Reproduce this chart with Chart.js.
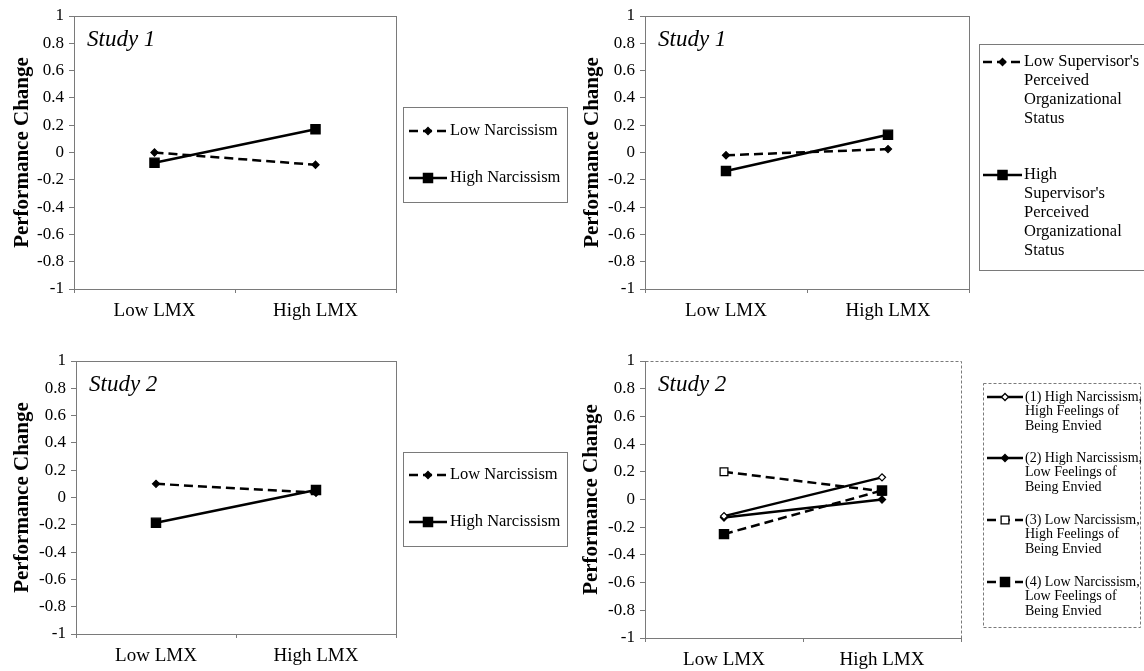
<!DOCTYPE html>
<html>
<head>
<meta charset="utf-8">
<script src="https://cdn.jsdelivr.net/npm/chart.js@4.4.1/dist/chart.umd.min.js"></script>
<style>
  html, body { margin: 0; padding: 0; background: #fff; }
  #wrap { position: relative; width: 1144px; height: 671px; overflow: hidden; }
  canvas { position: absolute; }
</style>
</head>
<body>
<div id="wrap">
  <canvas id="c1" width="572" height="335" style="left:0;top:0"></canvas>
  <canvas id="c2" width="572" height="335" style="left:572px;top:0"></canvas>
  <canvas id="c3" width="572" height="336" style="left:0;top:335px"></canvas>
  <canvas id="c4" width="572" height="336" style="left:572px;top:335px"></canvas>
</div>
<script>
// datos
const categories = ['Low LMX', 'High LMX'];

// Study 1 - narcisismo
const s1LowNarc = [0.0, -0.09];
const s1HighNarc = [-0.075, 0.17];
const s1NarcNames = [['Low Narcissism'], ['High Narcissism']];

// Study 1 - status del supervisor
const s1LowStatus = [-0.02, 0.025];
const s1HighStatus = [-0.135, 0.13];
const s1StatusNames = [
    ["Low Supervisor's", 'Perceived', 'Organizational', 'Status'],
    ['High', "Supervisor's", 'Perceived', 'Organizational', 'Status']
];

// Study 2 - narcisismo
const s2LowNarc = [0.10, 0.035];
const s2HighNarc = [-0.185, 0.055];
const s2NarcNames = [['Low Narcissism'], ['High Narcissism']];

// Study 2 - narcisismo x envidia
const s2HighNarcHighEnvy = [-0.12, 0.16];
const s2HighNarcLowEnvy = [-0.13, 0.0];
const s2LowNarcHighEnvy = [0.20, 0.06];
const s2LowNarcLowEnvy = [-0.25, 0.065];
const s2EnvyNames = [
    ['(1) High Narcissism,', 'High Feelings of', 'Being Envied'],
    ['(2) High Narcissism,', 'Low Feelings of', 'Being Envied'],
    ['(3) Low Narcissism,', 'High Feelings of', 'Being Envied'],
    ['(4) Low Narcissism,', 'Low Feelings of', 'Being Envied']
];

const FONT = "'Liberation Serif', 'Times New Roman', serif";
const GRIS = '#7a7a7a';
const DASH = [9, 5];

function serie(lines, data, dashed, style, radius, fill, order) {
    return {
        label: lines.join(' '),
        lines: lines,
        data: data,
        borderColor: '#000',
        borderWidth: 2.5,
        borderDash: dashed ? DASH : [],
        pointStyle: style,
        pointRadius: radius,
        pointHoverRadius: radius,
        pointBackgroundColor: fill,
        pointBorderColor: '#000',
        pointBorderWidth: 1.3,
        tension: 0,
        fill: false,
        order: order || 0
    };
}

// marcador para la leyenda
function dibujarMarcador(ctx, style, r, x, y, fill) {
    ctx.save();
    ctx.setLineDash([]);
    ctx.beginPath();
    if (style === 'rect') {
        const s = Math.SQRT1_2 * r;
        ctx.rect(x - s, y - s, 2 * s, 2 * s);
    } else {
        ctx.moveTo(x, y - r);
        ctx.lineTo(x + r, y);
        ctx.lineTo(x, y + r);
        ctx.lineTo(x - r, y);
        ctx.closePath();
    }
    ctx.fillStyle = fill;
    ctx.fill();
    ctx.lineWidth = 1.3;
    ctx.strokeStyle = '#000';
    ctx.stroke();
    ctx.restore();
}

// marco, titulo "Study" y leyenda
const panelDeco = {
    id: 'panelDeco',
    beforeDatasetsDraw(chart, args, opts) {
        const ctx = chart.ctx;
        const a = chart.chartArea;
        ctx.save();
        ctx.strokeStyle = GRIS;
        ctx.lineWidth = 1;
        ctx.setLineDash(opts.frameDash || []);
        ctx.strokeRect(a.left + 0.5, a.top + 0.5, a.right - a.left, a.bottom - a.top);
        ctx.restore();
    },
    afterDraw(chart, args, opts) {
        const ctx = chart.ctx;
        const a = chart.chartArea;
        ctx.save();
        ctx.fillStyle = '#000';
        ctx.font = 'italic 23px ' + FONT;
        ctx.textBaseline = 'middle';
        ctx.textAlign = 'left';
        ctx.fillText(opts.title, a.left + 13, a.top + 24);

        const lg = opts.legend;
        ctx.strokeStyle = GRIS;
        ctx.lineWidth = 1;
        ctx.setLineDash(lg.boxDash || []);
        ctx.strokeRect(lg.box[0] + 0.5, lg.box[1] + 0.5, lg.box[2], lg.box[3]);

        ctx.font = lg.fontSize + 'px ' + FONT;
        chart.data.datasets.forEach((ds, i) => {
            const y = lg.rows[i];
            ctx.save();
            ctx.strokeStyle = '#000';
            ctx.lineWidth = 2.5;
            ctx.setLineDash(ds.borderDash);
            ctx.beginPath();
            ctx.moveTo(lg.sample[0], y);
            ctx.lineTo(lg.sample[1], y);
            ctx.stroke();
            ctx.restore();
            dibujarMarcador(ctx, ds.pointStyle, ds.pointRadius,
                (lg.sample[0] + lg.sample[1]) / 2, y, ds.pointBackgroundColor);
            ds.lines.forEach((t, k) => {
                ctx.fillStyle = '#000';
                ctx.fillText(t, lg.textX, y + k * lg.lineHeight);
            });
        });
        ctx.restore();
    }
};

function formatoTick(v) {
    const r = Math.round(v * 10) / 10;
    return r === 0 ? '0' : String(r);
}

function crearGrafico(id, datasets, p) {
    const canvas = document.getElementById(id);
    return new Chart(canvas.getContext('2d'), {
        type: 'line',
        data: { labels: categories, datasets: datasets },
        options: {
            responsive: false,
            animation: false,
            devicePixelRatio: 1,
            layout: { padding: { left: 0, top: p.top, right: canvas.width - p.right, bottom: 0 } },
            plugins: {
                legend: { display: false },
                tooltip: { enabled: false },
                panelDeco: { title: p.title, frameDash: p.frameDash, legend: p.legend }
            },
            scales: {
                x: {
                    type: 'category',
                    offset: true,
                    grid: { offset: true, drawOnChartArea: false, tickLength: 4, color: GRIS },
                    border: { color: GRIS, dash: p.frameDash || [] },
                    ticks: { font: { family: FONT, size: 19 }, color: '#000', padding: 7, maxRotation: 0 },
                    afterFit(s) { s.height = canvas.height - p.bottom; }
                },
                y: {
                    min: -1,
                    max: 1,
                    ticks: {
                        stepSize: 0.2,
                        callback: formatoTick,
                        font: { family: FONT, size: 17 },
                        color: '#000',
                        padding: 5
                    },
                    grid: { drawOnChartArea: false, tickLength: 5, color: GRIS },
                    border: { color: GRIS },
                    title: {
                        display: true,
                        text: 'Performance Change',
                        font: { family: FONT, size: 21, weight: 'bold' },
                        color: '#000',
                        padding: { top: p.titlePad, bottom: 0 }
                    },
                    afterFit(s) { s.width = p.left; }
                }
            }
        },
        plugins: [panelDeco]
    });
}

// Panel 1
crearGrafico('c1', [
    serie(s1NarcNames[0], s1LowNarc, true, 'rectRot', 3.5, '#000'),
    serie(s1NarcNames[1], s1HighNarc, false, 'rect', 6.5, '#000')
], {
    left: 74, right: 396, top: 16, bottom: 289, titlePad: 10, title: 'Study 1',
    legend: { box: [403, 107, 164, 95], sample: [409, 447], textX: 450,
              rows: [131, 178], lineHeight: 19, fontSize: 16.5 }
});

// Panel 2
crearGrafico('c2', [
    serie(s1StatusNames[0], s1LowStatus, true, 'rectRot', 3.5, '#000'),
    serie(s1StatusNames[1], s1HighStatus, false, 'rect', 6.5, '#000')
], {
    left: 73, right: 397, top: 16, bottom: 289, titlePad: 8, title: 'Study 1',
    legend: { box: [407, 44, 200, 226], sample: [411, 450], textX: 452,
              rows: [62, 175], lineHeight: 18.8, fontSize: 16.5 }
});

// Panel 3
crearGrafico('c3', [
    serie(s2NarcNames[0], s2LowNarc, true, 'rectRot', 3.5, '#000'),
    serie(s2NarcNames[1], s2HighNarc, false, 'rect', 6.5, '#000')
], {
    left: 76, right: 396, top: 26, bottom: 299, titlePad: 10, title: 'Study 2',
    legend: { box: [403, 117, 164, 94], sample: [409, 447], textX: 450,
              rows: [140, 187], lineHeight: 19, fontSize: 16.5 }
});

// Panel 4
crearGrafico('c4', [
    serie(s2EnvyNames[0], s2HighNarcHighEnvy, false, 'rectRot', 3.5, '#fff', 0),
    serie(s2EnvyNames[1], s2HighNarcLowEnvy, false, 'rectRot', 3.5, '#000', 0),
    serie(s2EnvyNames[2], s2LowNarcHighEnvy, true, 'rect', 5.5, '#fff', 1),
    serie(s2EnvyNames[3], s2LowNarcLowEnvy, true, 'rect', 6.5, '#000', 0)
], {
    left: 73, right: 389, top: 26, bottom: 303, titlePad: 7, title: 'Study 2',
    frameDash: [3, 2],
    legend: { box: [411, 48, 157, 244], boxDash: [3, 2], sample: [415, 451], textX: 453,
              rows: [62, 123, 185, 247], lineHeight: 14.5, fontSize: 14 }
});
</script>
</body>
</html>
